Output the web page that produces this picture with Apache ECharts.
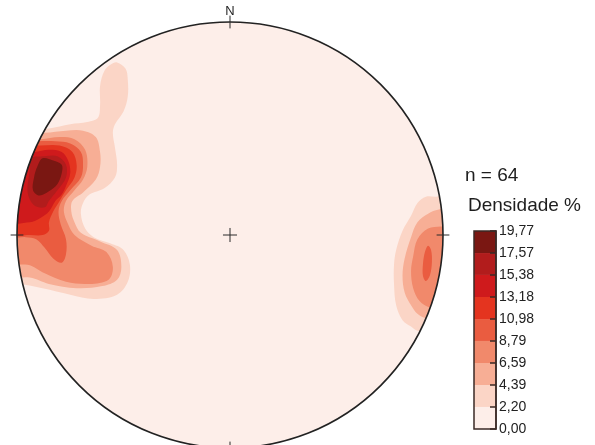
<!DOCTYPE html>
<html>
<head>
<meta charset="utf-8">
<script src="https://cdn.jsdelivr.net/npm/echarts@6/dist/echarts.min.js"></script>
<style>
  html, body { margin: 0; padding: 0; background: #ffffff; }
  #chart { width: 595px; height: 445px; }
</style>
</head>
<body>
<div id="chart"></div>
<script>
// Density classes (%): bounds of the nine classes
const densityBounds = [0, 2.20, 4.39, 6.59, 8.79, 10.98, 13.18, 15.38, 17.57, 19.77];
const classColors = ['#fdeee9', '#fbd5c6', '#f7ae95', '#f1896b', '#ea5c40', '#e4341f', '#cf1a1c', '#b21c1c', '#7a1712'];
const sampleCount = 64;

// Contour rings of the pole density, x/y in percent of the net radius
// (east = +x, north = +y). Each ring encloses the area above its class bound.
const westC1 = [[-117,48],[-94,49],[-85,50],[-75,52],[-67,53],[-62,55],[-61,61],[-61,70],[-59,77],[-56,80],[-53,81],[-49,78],[-48,73],[-48,65],[-50,58],[-54,52],[-55,48],[-54,41],[-53,33],[-54,27],[-59,22],[-66,19],[-69,15],[-70,10],[-68,3],[-64,-1],[-56,-4],[-50,-7],[-47,-14],[-48,-22],[-53,-28],[-64,-30],[-75,-28],[-88,-25],[-99,-23],[-117,-22]];
const westC2 = [[-117,47],[-87,48],[-77,49],[-69,49],[-63,46],[-61,39],[-61,32],[-63,26],[-69,20],[-74,16],[-74.5,11],[-73,6],[-70,1],[-61,-3],[-53,-7],[-51,-15],[-53,-21],[-60,-24],[-72,-25],[-85,-23],[-94,-20],[-117,-19]];
const westC3 = [[-117,45],[-89,45],[-80,46],[-73,45],[-68,40],[-67,32],[-69,26],[-73,21],[-77,16],[-78,11],[-76,5],[-73,0],[-65,-5],[-58,-8],[-55,-15],[-57,-21],[-66,-23],[-77,-22],[-87,-18],[-95,-14],[-117,-13]];
const westC4 = [[-117,42],[-90,44],[-82,44],[-75,43],[-70,39],[-69,33],[-70,27],[-75,21],[-79,16],[-80.5,11],[-79.5,5],[-77,-2],[-77,-9],[-79,-13],[-83,-11],[-87,-6],[-91,-2],[-96,-1],[-117,-1]];
const westC5 = [[-117,41],[-89,42],[-80,42],[-74,39],[-72,33],[-73,27],[-77,21],[-80,16],[-83,11],[-85,6],[-85,2],[-88,0],[-94,0],[-117,0]];
const westC6 = [[-117,40],[-92,39],[-85,40],[-79,39],[-76,35],[-75,29],[-77,23],[-79,19],[-82,16],[-85,11],[-89,8],[-94,6],[-117,6]];
const westC7 = [[-94,36],[-87,37],[-81,37],[-77,33],[-77,27],[-81,21],[-85,16],[-87,13],[-92,14],[-95,20],[-94,31]];
const westC8 = [[-88,36],[-83,35],[-79,33],[-79,29],[-81,24],[-85,20.5],[-89.5,18.5],[-92.5,21],[-92,27],[-90.5,32]];
const eastC1 = [[117,21],[97,18],[92,18],[88,15],[85,9],[81,2],[78,-7],[77,-14],[77,-23],[78,-33],[81,-40],[85,-43],[88,-45],[117,-49]];
const eastC2 = [[117,14],[98,12],[93,10],[88,6],[85,-1],[82,-11],[81,-19],[82,-27],[85,-33],[88,-37],[92,-39],[117,-42]];
const eastC3 = [[117,6],[99,4],[93,3],[88,-2],[86,-10],[85,-17],[86,-25],[89,-31],[94,-34],[117,-36]];
const eastC4 = [[93,-5],[94.4,-7],[94.8,-12.7],[93.9,-18.8],[92,-21.6],[90.6,-19.2],[90.6,-13.6],[91.5,-8]];

// Rings in drawing order (lowest class first)
const contours = [
  { cls: 1, ring: westC1 }, { cls: 1, ring: eastC1 },
  { cls: 2, ring: westC2 }, { cls: 2, ring: eastC2 },
  { cls: 3, ring: westC3 }, { cls: 3, ring: eastC3 },
  { cls: 4, ring: westC4 }, { cls: 4, ring: eastC4 },
  { cls: 5, ring: westC5 },
  { cls: 6, ring: westC6 },
  { cls: 7, ring: westC7 },
  { cls: 8, ring: westC8 }
];

const FONT = '"Liberation Sans", Arial, sans-serif';
const INK = '#1e1e1e';

function netGeometry(api) {
  const o = api.coord([0, 0]);
  const e = api.coord([100, 0]);
  return { cx: o[0], cy: o[1], r: e[0] - o[0] };
}

function classLabel(v) {
  let best = densityBounds[0];
  densityBounds.forEach(function (b) {
    if (Math.abs(b - v) < Math.abs(best - v)) best = b;
  });
  return best.toFixed(2).replace('.', ',');
}

const chart = echarts.init(document.getElementById('chart'), null, { renderer: 'canvas' });

const option = {
  animation: false,
  backgroundColor: '#ffffff',
  grid: [
    { left: 17, top: 22, width: 426, height: 426, containLabel: false, outerBoundsMode: 'none' },
    { left: 474, top: 231, width: 22, height: 198, containLabel: false, outerBoundsMode: 'none' }
  ],
  xAxis: [
    { gridIndex: 0, type: 'value', min: -100, max: 100, show: false },
    { gridIndex: 1, type: 'value', min: 0, max: 1, show: false }
  ],
  yAxis: [
    { gridIndex: 0, type: 'value', min: -100, max: 100, show: false },
    {
      gridIndex: 1, type: 'value', min: 0, max: 19.77, interval: 19.77 / 9,
      position: 'right', z: 10,
      axisLine: { show: true, onZero: false, lineStyle: { color: '#3a2a26', width: 1.5 } },
      axisTick: { show: true, inside: true, length: 6, lineStyle: { color: '#3a2a26', width: 1.5 } },
      axisLabel: { show: true, margin: 3, fontSize: 14, color: '#222222', fontFamily: FONT, formatter: classLabel },
      splitLine: { show: false }
    }
  ],
  graphic: [
    { type: 'text', x: 465, y: 176, style: { text: 'n = ' + sampleCount, font: '19px ' + FONT, fill: INK, verticalAlign: 'middle', textVerticalAlign: 'middle' } },
    { type: 'text', x: 468, y: 206, style: { text: 'Densidade %', font: '19px ' + FONT, fill: INK, verticalAlign: 'middle', textVerticalAlign: 'middle' } }
  ],
  series: [
    {
      // background of the net (lowest density class)
      type: 'custom', coordinateSystem: 'cartesian2d', xAxisIndex: 0, yAxisIndex: 0,
      silent: true, z: 1,
      data: [[0, 0]],
      renderItem: function (params, api) {
        const g = netGeometry(api);
        return { type: 'circle', shape: { cx: g.cx, cy: g.cy, r: g.r }, style: { fill: classColors[0] } };
      }
    },
    {
      // filled density contours, clipped to the primitive circle
      type: 'custom', coordinateSystem: 'cartesian2d', xAxisIndex: 0, yAxisIndex: 0,
      silent: true, z: 2,
      data: contours.map(function (c, i) { return [0, 0, i]; }),
      renderItem: function (params, api) {
        const c = contours[params.dataIndex];
        const g = netGeometry(api);
        return {
          type: 'polygon',
          shape: { points: c.ring.map(function (p) { return api.coord(p); }), smooth: 0.35 },
          style: { fill: classColors[c.cls] },
          clipPath: { type: 'circle', shape: { cx: g.cx, cy: g.cy, r: g.r } }
        };
      }
    },
    {
      // primitive circle, centre cross, cardinal ticks and north label
      type: 'custom', coordinateSystem: 'cartesian2d', xAxisIndex: 0, yAxisIndex: 0,
      silent: true, z: 3,
      data: [[0, 0]],
      renderItem: function (params, api) {
        const g = netGeometry(api);
        const seg = function (a, b) {
          const p = api.coord(a), q = api.coord(b);
          return { type: 'line', shape: { x1: p[0], y1: p[1], x2: q[0], y2: q[1] }, style: { stroke: '#2a2a2a', lineWidth: 1 } };
        };
        const n = api.coord([0, 104.8]);
        return {
          type: 'group',
          children: [
            { type: 'circle', shape: { cx: g.cx, cy: g.cy, r: g.r }, style: { fill: 'none', stroke: '#222222', lineWidth: 1.6 } },
            seg([-3.3, 0], [3.3, 0]), seg([0, -3.3], [0, 3.3]),
            seg([0, 97], [0, 103]), seg([0, -97], [0, -103]),
            seg([97, 0], [103, 0]), seg([-97, 0], [-103, 0]),
            { type: 'text', style: { text: 'N', x: n[0], y: n[1], font: '13px ' + FONT, fill: INK, align: 'center', verticalAlign: 'middle', textAlign: 'center', textVerticalAlign: 'middle' } }
          ]
        };
      }
    },
    {
      // colour scale classes
      type: 'custom', coordinateSystem: 'cartesian2d', xAxisIndex: 1, yAxisIndex: 1,
      silent: true, z: 2,
      encode: { x: 0, y: [1, 2] },
      data: classColors.map(function (c, i) { return [0.5, densityBounds[i], densityBounds[i + 1], i]; }),
      renderItem: function (params, api) {
        const a = api.coord([0, api.value(1)]);
        const b = api.coord([1, api.value(2)]);
        return { type: 'rect', shape: { x: a[0], y: b[1], width: b[0] - a[0], height: a[1] - b[1] }, style: { fill: classColors[api.value(3)] } };
      }
    },
    {
      // colour scale frame
      type: 'custom', coordinateSystem: 'cartesian2d', xAxisIndex: 1, yAxisIndex: 1,
      silent: true, z: 3,
      data: [[0.5, 0]],
      renderItem: function (params, api) {
        const a = api.coord([0, 0]);
        const b = api.coord([1, densityBounds[densityBounds.length - 1]]);
        return { type: 'rect', shape: { x: a[0], y: b[1], width: b[0] - a[0], height: a[1] - b[1] }, style: { fill: 'none', stroke: '#3a2a26', lineWidth: 1.5 } };
      }
    }
  ]
};

chart.setOption(option);
</script>
</body>
</html>
